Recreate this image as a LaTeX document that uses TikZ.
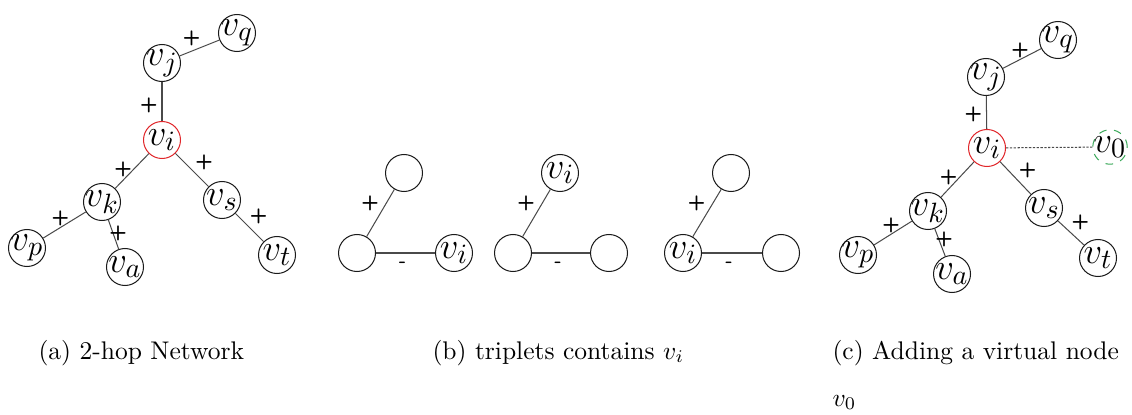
\documentclass[tikz,border=0pt]{standalone}
\usepackage{amsmath,amssymb}
\usepackage{tikz}
\usetikzlibrary{arrows.meta,calc,positioning}
\definecolor{ink}{HTML}{1A1A1A}
\definecolor{edge}{HTML}{4A4A4A}
\definecolor{hot}{HTML}{E0262A}
\definecolor{virt}{HTML}{3DAA5C}
\newcommand{\vlab}[1]{\makebox[0pt]{$v_{#1}$}}
\begin{document}
\begin{tikzpicture}[x=0.392pt,y=-0.392pt,
  vtx/.style={draw=ink,circle,minimum size=14.5pt,inner sep=0pt,font=\fontsize{15}{15}\selectfont},
  pm/.style={font=\sffamily\bfseries\footnotesize,inner sep=0.5pt},
  lnk/.style={draw=edge,line width=0.4pt}]
\useasboundingbox (0,0) rectangle (1132,414);
% (a) 2-hop network
\node[vtx,draw=hot] (ai) at (162,140) {\vlab{i}};
\node[vtx] (aj) at (162,63) {\vlab{j}};
\node[vtx] (aq) at (237,33) {\vlab{q}};
\node[vtx] (ak) at (102,202) {\vlab{k}};
\node[vtx] (as) at (222,200) {\vlab{s}};
\node[vtx] (ap) at (27,248) {\vlab{p}};
\node[vtx] (aa) at (125,267) {\vlab{a}};
\node[vtx] (at) at (277,255) {\vlab{t}};
\draw[lnk] (aj) -- node[pm,above left,xshift=1pt]{+} (aq);
\draw[lnk] (aj) -- node[pm,left,pos=0.6,xshift=-1pt]{+} (ai);
\draw[lnk] (ai) -- node[pm,left,pos=0.45]{+} (ak);
\draw[lnk] (ai) -- node[pm,above right,pos=0.55]{+} (as);
\draw[lnk] (ak) -- node[pm,above,pos=0.6]{+} (ap);
\draw[lnk] (ak) -- node[pm,xshift=2pt,pos=0.45]{+} (aa);
\draw[lnk] (as) -- node[pm,above right,pos=0.45]{+} (at);
% (b) triplets
\node[vtx] (b1t) at (404,173) {};
\node[vtx] (b1l) at (357,253) {};
\node[vtx] (b1r) at (454,253) {\vlab{i}};
\draw[lnk] (b1l) -- node[pm,above left]{+} (b1t);
\draw[lnk] (b1l) -- node[pm,below,pos=0.45,yshift=-3pt]{-} (b1r);
\node[vtx] (b2t) at (560,173) {\vlab{i}};
\node[vtx] (b2l) at (513,253) {};
\node[vtx] (b2r) at (609,253) {};
\draw[lnk] (b2l) -- node[pm,above left]{+} (b2t);
\draw[lnk] (b2l) -- node[pm,below,pos=0.45,yshift=-3pt]{-} (b2r);
\node[vtx] (b3t) at (731,173) {};
\node[vtx] (b3l) at (683,253) {\vlab{i}};
\node[vtx] (b3r) at (781,253) {};
\draw[lnk] (b3l) -- node[pm,above left]{+} (b3t);
\draw[lnk] (b3l) -- node[pm,below,pos=0.45,yshift=-3pt]{-} (b3r);
% (c) with virtual node
\node[vtx,draw=hot] (ci) at (987,148) {\vlab{i}};
\node[vtx] (cj) at (986,77) {\vlab{j}};
\node[vtx] (cq) at (1058,40) {\vlab{q}};
\node[vtx] (ck) at (928,211) {\vlab{k}};
\node[vtx] (cs) at (1044,208) {\vlab{s}};
\node[vtx] (cp) at (858,255) {\vlab{p}};
\node[vtx] (ca) at (952,274) {\vlab{a}};
\node[vtx] (ct) at (1098,258) {\vlab{t}};
\node[vtx,draw=virt,dashed,minimum size=13.5pt] (c0) at (1110,147) {\vlab{0}};
\draw[lnk] (cj) -- node[pm,above,pos=0.45]{+} (cq);
\draw[lnk] (cj) -- node[pm,left,pos=0.55,xshift=-1pt]{+} (ci);
\draw[lnk] (ci) -- node[pm,left,pos=0.45]{+} (ck);
\draw[lnk] (ci) -- node[pm,above right,pos=0.55]{+} (cs);
\draw[lnk] (ck) -- node[pm,above,pos=0.55]{+} (cp);
\draw[lnk] (ck) -- node[pm,xshift=2pt,pos=0.4]{+} (ca);
\draw[lnk] (cs) -- node[pm,above right,pos=0.45]{+} (ct);
\draw[lnk,dash pattern=on 0.9pt off 0.6pt] (ci) -- (c0);
% captions
\node[anchor=base west,inner sep=0pt] (capa) at (38,359) {(a) 2-hop Network};
\node[anchor=base west,inner sep=0pt] (capb) at (432,359) {(b) triplets contains $v_i$};
\node[anchor=base west,inner sep=0pt] (capc) at (832,359) {(c) Adding a virtual node};
\node[anchor=base west,inner sep=0pt] (capd) at (832,406) {$v_0$};
\end{tikzpicture}
\end{document}
